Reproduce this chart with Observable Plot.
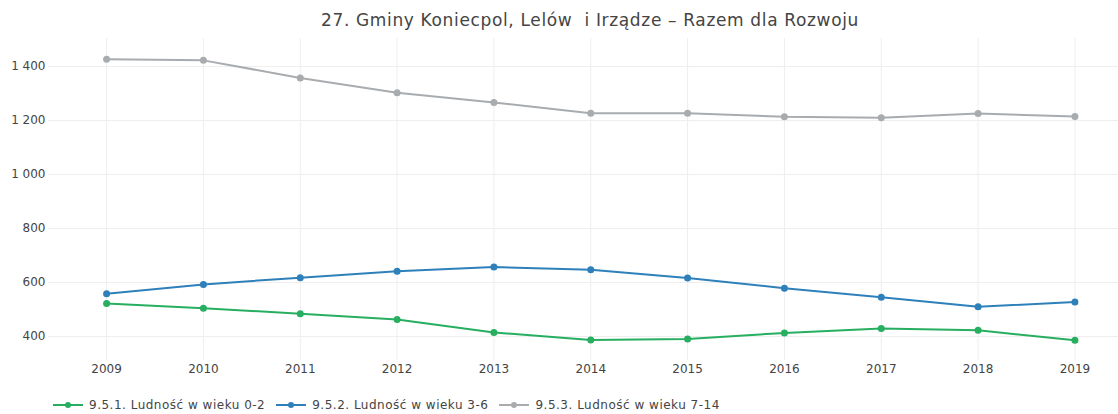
<!DOCTYPE html>
<html>
<head>
<meta charset="utf-8">
<script src="https://cdn.jsdelivr.net/npm/d3@7"></script>
<script src="https://cdn.jsdelivr.net/npm/@observablehq/plot@0.6"></script>
<style>
  html, body { margin: 0; padding: 0; background: #fff; }
  body { width: 1118px; height: 414px; overflow: hidden; font-family: Verdana, "DejaVu Sans", sans-serif; position: relative; }
  #title { position: absolute; left: 0; width: 1180px; top: 10px; text-align: center; font-size: 17px; letter-spacing: 0.65px; color: #444; white-space: pre; }
  #chart { position: absolute; left: 0; top: 30px; }
  #legend { position: absolute; left: 52px; top: 398px; display: flex; font-size: 12px; letter-spacing: 0.5px; color: #444; white-space: nowrap; }
  .item { display: flex; align-items: center; margin-right: 10px; }
  .item svg { margin-right: 5px; }
</style>
</head>
<body>
<div id="title">27. Gminy Koniecpol, Lelów  i Irządze – Razem dla Rozwoju</div>
<div id="chart"></div>
<div id="legend"></div>
<script>
const years = [2009, 2010, 2011, 2012, 2013, 2014, 2015, 2016, 2017, 2018, 2019];
const seriesNames = ["9.5.1. Ludność w wieku 0-2", "9.5.2. Ludność w wieku 3-6", "9.5.3. Ludność w wieku 7-14"];
const colors = ["#27ae60", "#2e80bb", "#a9acaf"];
const age0to2 = [522, 505, 484, 463, 415, 387, 391, 413, 430, 423, 386];
const age3to6 = [558, 593, 618, 642, 657, 647, 617, 579, 545, 510, 528];
const age7to14 = [1427, 1423, 1358, 1303, 1267, 1227, 1227, 1214, 1210, 1226, 1215];
const yTicks = [400, 600, 800, 1000, 1200, 1400];

const seriesValues = [age0to2, age3to6, age7to14];
const data = [];
seriesNames.forEach((name, i) => {
  years.forEach((y, j) => data.push({series: name, year: y, value: seriesValues[i][j]}));
});

const fmt = d => d3.format(",")(d).replace(/,/g, " ");

const chart = Plot.plot({
  width: 1118,
  height: 355,
  marginLeft: 48,
  marginRight: 0,
  marginTop: 8,
  marginBottom: 25,
  style: { fontFamily: 'Verdana, "DejaVu Sans", sans-serif', fontSize: "12px", color: "#444", background: "transparent" },
  x: { domain: [2008.4, 2019.45], ticks: years, tickFormat: d => String(d) },
  y: { domain: [311, 1504] },
  color: { domain: seriesNames, range: colors },
  marks: [
    Plot.ruleX(years, { stroke: "#eee", strokeWidth: 1 }),
    Plot.ruleY(yTicks, { stroke: "#eee", strokeWidth: 1 }),
    Plot.axisX({ ticks: years, tickSize: 0, tickPadding: 4, tickFormat: d => String(d), label: null, fill: "#444" }),
    Plot.axisY({ ticks: yTicks, tickSize: 0, tickPadding: 3, tickFormat: fmt, label: null, fill: "#444" }),
    Plot.line(data, { x: "year", y: "value", z: "series", stroke: "series", strokeWidth: 2 }),
    Plot.dot(data, { x: "year", y: "value", fill: "series", r: 3.5 })
  ]
});
document.getElementById("chart").appendChild(chart);

const legend = document.getElementById("legend");
seriesNames.forEach((name, i) => {
  const item = document.createElement("div");
  item.className = "item";
  item.innerHTML = `<svg width="32" height="10"><line x1="1" x2="31" y1="5" y2="5" stroke="${colors[i]}" stroke-width="2"/><circle cx="16" cy="5" r="3" fill="${colors[i]}"/></svg><span>${name}</span>`;
  legend.appendChild(item);
});
</script>
</body>
</html>
